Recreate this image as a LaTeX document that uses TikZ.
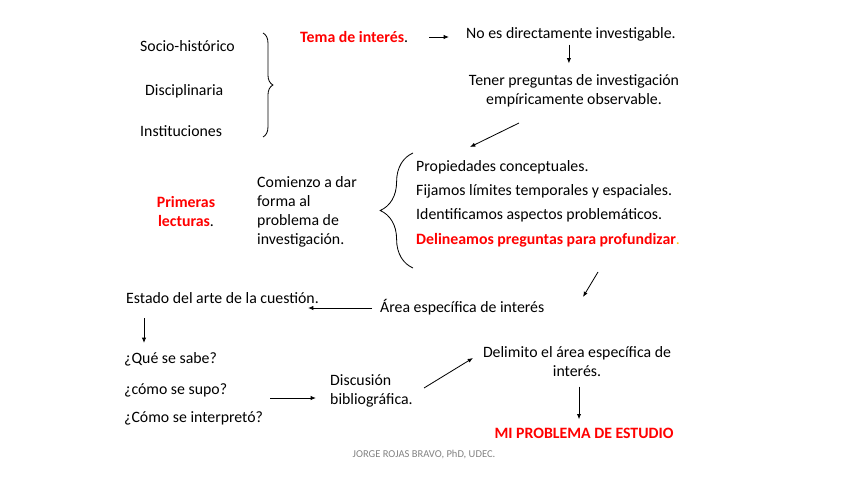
\documentclass[tikz,border=0pt]{standalone}
\usepackage{fontspec}
\setmainfont{Carlito}
\usetikzlibrary{arrows.meta,decorations.pathreplacing}
\definecolor{rojo}{RGB}{255,0,0}
\definecolor{amarillo}{RGB}{255,192,0}
\definecolor{pie}{RGB}{130,130,130}
\tikzset{
  txt/.style={inner sep=0pt,font=\fontsize{13.5}{16.2}\selectfont},
  arr/.style={-{Latex[length=4.5pt,width=3.6pt]},line width=0.7pt},
  llave/.style={decorate,decoration={brace,amplitude=#1},line width=0.7pt}
}
\newcommand{\rojob}[1]{\textcolor{rojo}{\bfseries #1}}
\begin{document}
\begin{tikzpicture}[x=0.03cm,y=-0.03cm]
  \useasboundingbox (0,0) rectangle (848,477);
  % bloque superior
  \node[txt,anchor=west] (socio) at (140,46) {Socio-histórico};
  \node[txt,anchor=west] (disc) at (145,91) {Disciplinaria};
  \node[txt,anchor=west] (inst) at (140,131) {Instituciones};
  \draw[llave=8.5pt] (263,33) -- (263,137);
  \node[txt,anchor=west] (tema) at (300,37) {\rojob{Tema de interés}.};
  \node[txt,anchor=west] (noes) at (466,34) {No es directamente investigable.};
  \node[txt,align=center] (tener) at (574,90.5) {Tener preguntas de investigación\\empíricamente observable.};
  \draw[arr,shorten <=18pt,shorten >=14.5pt] (tema.east) -- (tema.east -| noes.west);
  \draw[arr,shorten <=3pt,shorten >=9pt] (noes.south) ++(-2,0) coordinate (n1) -- (n1 |- tener.north);
  \coordinate (t1) at (519,123);
  \coordinate (t2) at (470,147);
  \draw[arr] (t1) -- (t2);
  % primeras lecturas
  \node[txt,align=center] (prim) at (186,211.5) {\rojob{Primeras}\\\rojob{lecturas}.};
  \node[txt,align=left,anchor=west] (comi) at (257,211.5) {Comienzo a dar\\forma al\\problema de\\investigación.};
  \draw[llave=28pt] (413,268) -- (413,153);
  \node[txt,anchor=west] (prop) at (416,167) {Propiedades conceptuales.};
  \node[txt,anchor=west] (fij) at (416,191) {Fijamos límites temporales y espaciales.};
  \node[txt,anchor=west] (iden) at (416,215) {Identificamos aspectos problemáticos.};
  \node[txt,anchor=west] (deli) at (416,240) {\rojob{Delineamos preguntas para profundizar}\textcolor{amarillo}{.}};
  % estado del arte
  \coordinate (d1) at (598,272);
  \coordinate (d2) at (583,297);
  \draw[arr] (d1) -- (d2);
  \node[txt,anchor=west] (estado) at (126,298) {Estado del arte de la cuestión.};
  \node[txt,anchor=west] (area) at (380,307) {Área específica de interés};
  \coordinate (a2) at (308,308);
  \draw[arr,shorten <=6.8pt] (area.west |- a2) -- (a2);
  \coordinate (e1) at (144,318);
  \coordinate (e2) at (144,343);
  \draw[arr] (e1) -- (e2);
  % preguntas
  \node[txt,anchor=west] (que) at (124,359) {¿Qué se sabe?};
  \node[txt,anchor=west] (como) at (124,390) {¿cómo se supo?};
  \node[txt,anchor=west] (cint) at (124,418) {¿Cómo se interpretó?};
  \node[txt,align=left,anchor=west] (discu) at (330,391) {Discusión\\bibliográfica.};
  \coordinate (q1) at (270,398);
  \coordinate (q2) at (316,398);
  \draw[arr] (q1) -- (q2);
  \coordinate (b1) at (424,388);
  \coordinate (b2) at (473,358);
  \draw[arr] (b1) -- (b2);
  \node[txt,align=center] (delim) at (577,362) {Delimito el área específica de\\interés.};
  \node[txt] (mi) at (584,433) {\rojob{MI PROBLEMA DE ESTUDIO}};
  \draw[arr,shorten <=8pt,shorten >=7pt] (delim.south) ++(2,0) coordinate (m1) -- (m1 |- mi.north);
  \node[inner sep=0pt,text=pie,font=\fontsize{9}{10}\selectfont] (firma) at (424,455) {JORGE ROJAS BRAVO, PhD, UDEC.};
\end{tikzpicture}
\end{document}
